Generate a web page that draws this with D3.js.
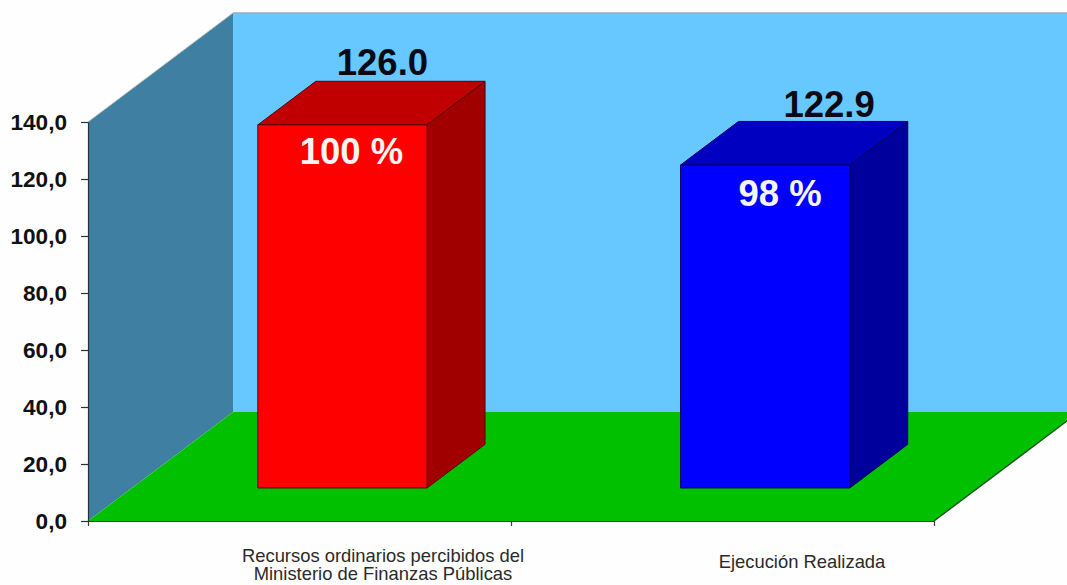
<!DOCTYPE html>
<html><head><meta charset="utf-8">
<script src="https://cdn.jsdelivr.net/npm/d3@7"></script>
<style>html,body{margin:0;padding:0;background:#fefefe;overflow:hidden}svg{display:block}text{font-family:"Liberation Sans",Arial,sans-serif}</style>
</head><body><svg id="c" width="1067" height="585"></svg>
<script>
const categories = [["Recursos ordinarios percibidos del","Ministerio de Finanzas Públicas"],["Ejecución Realizada"]];
const plottedHeights = [127.4, 113.3];
const valueLabels = ["126.0","122.9"];
const percentLabels = ["100 %","98 %"];
const yTicks = [0,20,40,60,80,100,120,140];
const frontColors = ["#ff0000","#0000ff"];
const topColors = ["#c00000","#0000c0"];
const sideColors = ["#a00000","#00009c"];
const edgeColors = ["#5a0000","#00005a"];

const svg = d3.select("#c");
const y = d3.scaleLinear().domain([0,140]).range([521,122]);
const x = d3.scaleBand().domain([0,1]).range([88,934]);
const edge = d3.scaleLinear().domain([0,2]).range([88,934]);
const depth = {x:145,y:-109};
const P = (px,py,z)=>[px+depth.x*z, py+depth.y*z];
const poly = (pts,fill,stroke,sw)=>svg.append("path").attr("d","M"+pts.map(p=>p.join(",")).join("L")+"Z").attr("fill",fill).attr("stroke",stroke||"none").attr("stroke-width",sw||0);

// wall, side wall, floor
svg.append("rect").attr("x",233).attr("y",13).attr("width",834).attr("height",399).attr("fill","#66c8ff");
svg.append("line").attr("x1",233).attr("x2",1067).attr("y1",13).attr("y2",13).attr("stroke","#8fb0bf").attr("stroke-width",1.5);
poly([P(88,y(0),0),P(88,y(140),0),P(88,y(140),1),P(88,y(0),1)],"#3f80a2");
poly([P(88,y(0),0),P(934,y(0),0),P(934,y(0),1),P(88,y(0),1)],"#00c000");
svg.append("line").attr("x1",934).attr("y1",521).attr("x2",P(934,521,1)[0]).attr("y2",P(934,521,1)[1]).attr("stroke","#124f1a").attr("stroke-width",1.3);
svg.append("line").attr("x1",88).attr("y1",122).attr("x2",233).attr("y2",13).attr("stroke","#b0b8b0").attr("stroke-width",1);

// axes
const yAxis = svg.append("g").attr("transform","translate(88,0)")
  .call(d3.axisLeft(y).tickValues(yTicks).tickSize(7).tickSizeOuter(0).tickFormat(d=>d3.format(".1f")(d).replace(".",",")));
yAxis.selectAll("path,line").attr("stroke","#2a3038").attr("stroke-width",1.2);
yAxis.selectAll("text").attr("font-size",22.6).attr("font-weight","bold").attr("fill","#111").attr("x",-21).attr("dy","0.35em");
const xAxis = svg.append("g").attr("transform","translate(0,521)")
  .call(d3.axisBottom(edge).tickValues([0,1,2]).tickSize(5).tickSizeOuter(0).tickFormat(""));
xAxis.selectAll("path,line").attr("stroke","#3a3a30").attr("stroke-width",1.2);

// bars
const zF=0.303, zB=0.703, bw=x.bandwidth()*0.4;
const barNudge=[-1,-1.3], pctDx=[9,15], pctDy=[39,41], valDx=[-18,6], valDy=[-6,-4];
const labelX=[383,802], labelY=[562,568];
plottedHeights.forEach((h,i)=>{
  const cx=x(i)+x.bandwidth()/2+barNudge[i], l=cx-bw/2, r=cx+bw/2, y0=y(0), y1=y(h);
  const s=edgeColors[i];
  poly([P(r,y0,zF),P(r,y0,zB),P(r,y1,zB),P(r,y1,zF)],sideColors[i],s,1);
  poly([P(l,y1,zF),P(r,y1,zF),P(r,y1,zB),P(l,y1,zB)],topColors[i],s,1);
  poly([P(l,y0,zF),P(r,y0,zF),P(r,y1,zF),P(l,y1,zF)],frontColors[i],s,1);
  const c=P(cx,y1,zF);
  svg.append("text").attr("x",c[0]+pctDx[i]).attr("y",c[1]+pctDy[i]).attr("text-anchor","middle").attr("font-size",36.5).attr("font-weight","bold").attr("fill","#f4f4f4").text(percentLabels[i]);
  const t=P(cx,y1,zB);
  svg.append("text").attr("x",t[0]+valDx[i]).attr("y",t[1]+valDy[i]).attr("text-anchor","middle").attr("font-size",36.5).attr("font-weight","bold").attr("fill","#0a0a14").text(valueLabels[i]);
  const lab=svg.append("text").attr("text-anchor","middle").attr("font-size",18.4).attr("fill","#2a2a2a");
  categories[i].forEach((ln,k)=>lab.append("tspan").attr("x",labelX[i]).attr("y",labelY[i]+k*18).text(ln));
});
</script></body></html>
